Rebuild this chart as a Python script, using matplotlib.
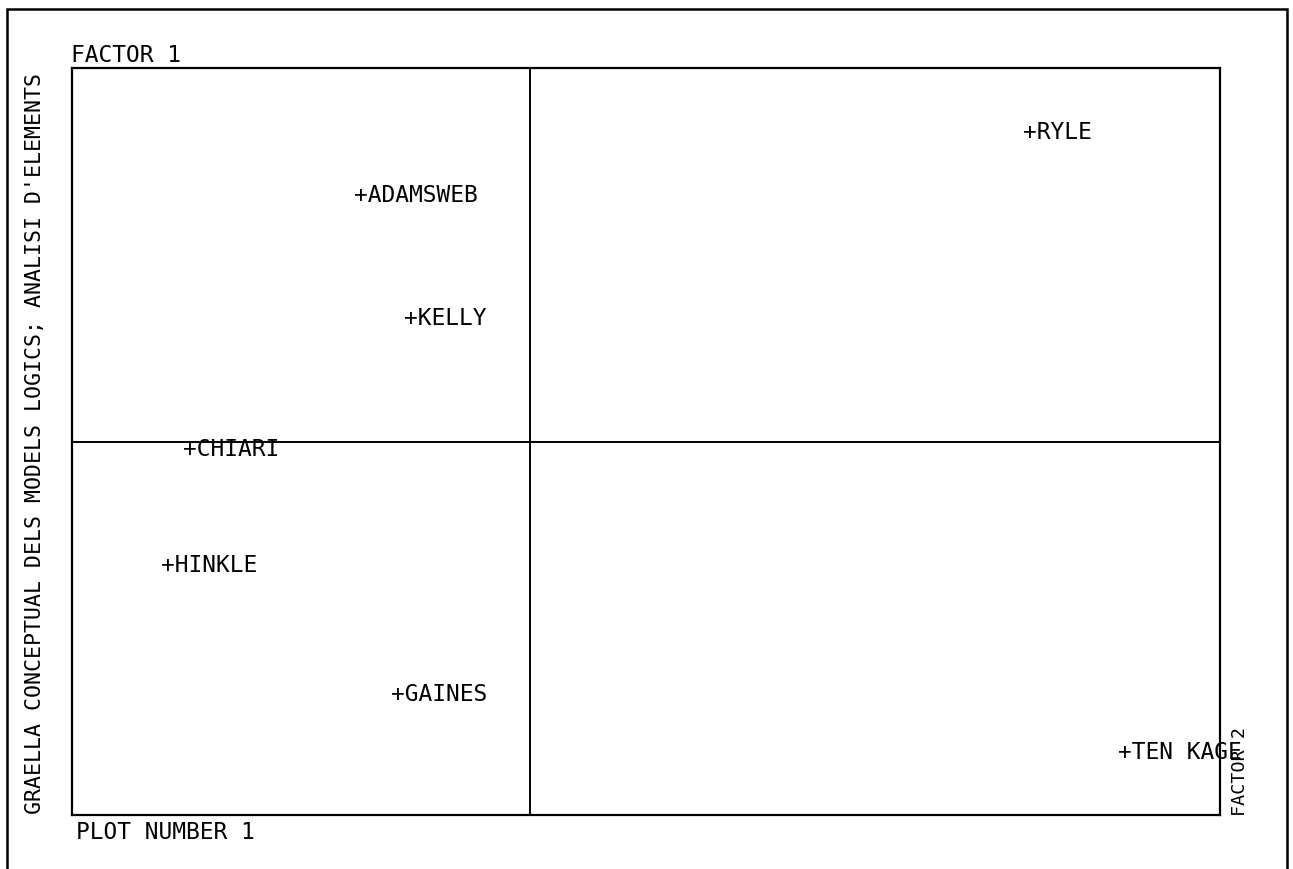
import matplotlib.pyplot as plt
from matplotlib.patches import Rectangle

# Punts del pla factorial (factor 1 horitzontal, factor 2 vertical)
noms = ["RYLE", "ADAMSWEB", "KELLY", "CHIARI", "HINKLE", "GAINES", "TEN KAGE"]
factor1 = [1.092, -0.369, -0.260, -0.742, -0.790, -0.288, 1.299]
factor2 = [0.829, 0.660, 0.332, -0.019, -0.329, -0.676, -0.829]

titol_y = "GRAELLA CONCEPTUAL DELS MODELS LOGICS; ANALISI D'ELEMENTS"

plt.rcParams['font.family'] = ['DejaVu Sans Mono']

W, H = 1293, 870
fig = plt.figure(figsize=(W / 100, H / 100), dpi=100)

# marc exterior de la pagina
fig.patches.append(Rectangle((7 / W, -0.01), (1287 - 7) / W, 1 - 10 / H + 0.01,
                             transform=fig.transFigure, fill=False,
                             edgecolor='black', linewidth=1.8))

ax = fig.add_axes([72 / W, 1 - 816 / H, (1220 - 72) / W, (816 - 69) / H])
ax.set_xlim(-1.0, (1220 - 530) / 458)
ax.set_ylim(-1.0, 1.0)
ax.set_xticks([])
ax.set_yticks([])
for s in ax.spines.values():
    s.set_linewidth(1.6)

ax.axhline(0, color='black', linewidth=1.4)
ax.axvline(0, color='black', linewidth=1.4)

for nom, x, y in zip(noms, factor1, factor2):
    ax.annotate("+" + nom, (x, y), xytext=(-5, 0), textcoords='offset points',
                ha='left', va='center', fontsize=16.5, color='black')

fig.text(71 / W, 1 - 55 / H, "FACTOR 1", ha='left', va='center', fontsize=16.5)
fig.text(76 / W, 1 - 833 / H, "PLOT NUMBER 1", ha='left', va='center', fontsize=16.5)
fig.text(35 / W, 1 - 443 / H, titol_y, rotation=90, ha='center', va='center',
         fontsize=15.5)
fig.text(1240 / W, 1 - 816 / H, "FACTOR 2", rotation=90, ha='center', va='bottom',
         fontsize=13.2)

fig.savefig("out.png", dpi=100)
